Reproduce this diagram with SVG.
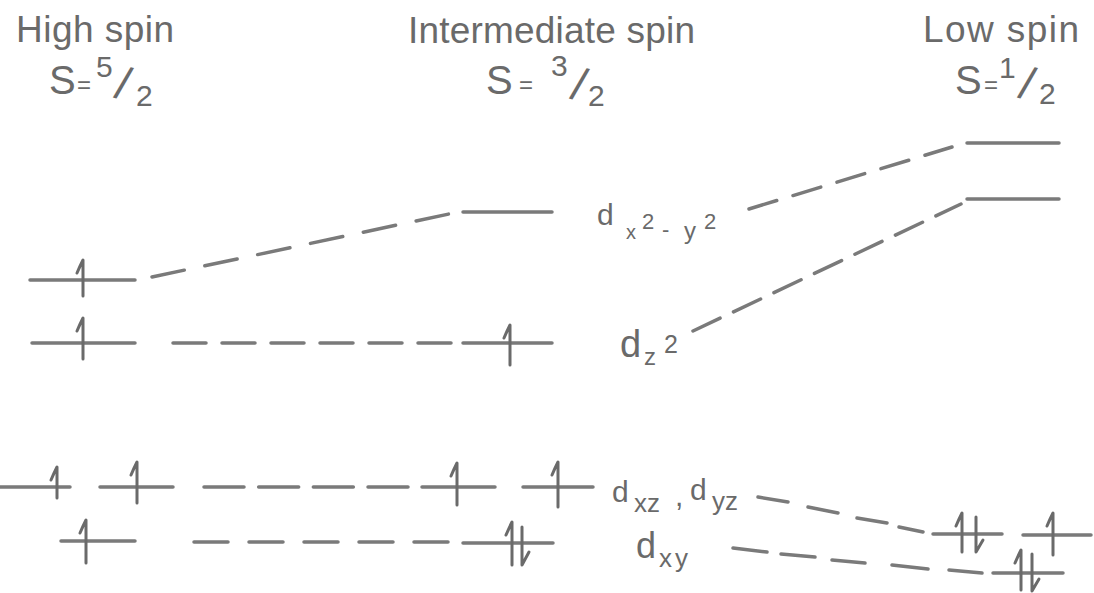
<svg xmlns="http://www.w3.org/2000/svg" width="1094" height="593" viewBox="0 0 1094 593">
<style>
.lv{stroke:#7a7a7a;stroke-width:3.5;stroke-linecap:round;fill:none}
.el{stroke:#6a6a6a;stroke-width:3;stroke-linecap:round;stroke-linejoin:round;fill:none}
.cn{stroke:#7a7a7a;stroke-width:3.5;stroke-linecap:round;fill:none}
.t{font-family:"Liberation Sans","DejaVu Sans",sans-serif;fill:#6a6a6a}
</style>
<rect width="1094" height="593" fill="#ffffff"/>
<g id="titles" class="t">
<text x="16" y="42" font-size="37" textLength="158" lengthAdjust="spacing">High spin</text>
<text font-size="40"><tspan x="49" y="94">S</tspan><tspan x="77" y="93" font-size="24">=</tspan><tspan x="96" y="77" font-size="30">5</tspan><tspan x="113" y="97" font-size="46" rotate="15">/</tspan><tspan x="136" y="106" font-size="30">2</tspan></text>
<text x="408" y="43" font-size="37" textLength="287" lengthAdjust="spacing">Intermediate spin</text>
<text font-size="40"><tspan x="486" y="94">S</tspan><tspan x="519" y="93" font-size="24">=</tspan><tspan x="551" y="76" font-size="30">3</tspan><tspan x="569" y="98" font-size="46" rotate="15">/</tspan><tspan x="588" y="106" font-size="30">2</tspan></text>
<text x="923" y="42" font-size="37" textLength="156" lengthAdjust="spacing">Low spin</text>
<text font-size="40"><tspan x="955" y="94">S</tspan><tspan x="984" y="93" font-size="24">=</tspan><tspan x="999" y="78" font-size="30">1</tspan><tspan x="1017" y="97" font-size="46" rotate="15">/</tspan><tspan x="1039" y="104" font-size="30">2</tspan></text>
</g>
<g id="connectors">
<path class="cn" d="M152,277 L449,214" stroke-dasharray="33 21"/>
<path class="cn" d="M749,209 L952,147" stroke-dasharray="29 17"/>
<path class="cn" d="M173,343 H451" stroke-dasharray="33 16"/>
<path class="cn" d="M693,331 L961,204" stroke-dasharray="30 14.8"/>
<path class="cn" d="M204,487 H408" stroke-dasharray="40 14.67"/>
<path class="cn" d="M194,542 H448" stroke-dasharray="34 21"/>
<path class="cn" d="M758,497 L788,502 M808,507 L838,513 M857,518 L887,523 M899,527 L923,532"/>
<path class="cn" d="M733,548 L767,552 M781,554 L815,557 M832,560 L865,563 M892,565 L928,569 M949,570 L982,573"/>
</g>
<g id="hs-dx2y2"><path class="lv" d="M30,280 H135"/><path class="el" d="M83,296 V260 Q80,266 77,273"/></g>
<g id="hs-dz2"><path class="lv" d="M32,343 H135"/><path class="el" d="M83,359 V318 Q80,324 77,331"/></g>
<g id="hs-dxz-dyz"><path class="lv" d="M0,487 H70"/><path class="el" d="M57,498 V467 Q54,473 51,480"/><path class="lv" d="M100,487 H173"/><path class="el" d="M137,503 V462 Q134,468 131,475"/></g>
<g id="hs-dxy"><path class="lv" d="M61,541 H135"/><path class="el" d="M86,563 V520 Q83,526 80,533"/></g>
<g id="is-dx2y2"><path class="lv" d="M463,212 H552"/></g>
<g id="is-dz2"><path class="lv" d="M463,343 H552"/><path class="el" d="M510,365 V325 Q507,331 504,338"/></g>
<g id="is-dxz-dyz"><path class="lv" d="M422,487 H495"/><path class="el" d="M457,505 V463 Q454,469 451,476"/><path class="lv" d="M523,487 H593"/><path class="el" d="M558,507 V462 Q555,468 552,475"/></g>
<g id="is-dxy"><path class="lv" d="M463,543 H553"/><path class="el" d="M512,565 V522 Q509,528 506,535"/><path class="el" d="M522,527 V565 L529,552"/></g>
<g id="ls-dx2y2"><path class="lv" d="M967,143 H1059"/></g>
<g id="ls-dz2"><path class="lv" d="M967,199 H1059"/></g>
<g id="ls-dxz-dyz"><path class="lv" d="M933,534 H1002"/><path class="el" d="M962,552 V513 Q959,519 956,526"/><path class="el" d="M976,517 V552 L983,540"/><path class="lv" d="M1023,535 H1091"/><path class="el" d="M1053,555 V513 Q1050,519 1047,526"/></g>
<g id="ls-dxy"><path class="lv" d="M993,573 H1063"/><path class="el" d="M1021,590 V550 Q1018,556 1015,563"/><path class="el" d="M1032,554 V591 L1039,579"/></g>
<g id="label-dx2y2" class="t"><text><tspan x="597" y="225" font-size="30">d</tspan><tspan x="626" y="239" font-size="20">x</tspan><tspan x="642" y="229" font-size="22">2</tspan><tspan x="662" y="237" font-size="22">-</tspan><tspan x="684" y="239" font-size="24">y</tspan><tspan x="704" y="229" font-size="22">2</tspan></text></g>
<g id="label-dz2" class="t"><text><tspan x="620" y="357" font-size="38">d</tspan><tspan x="644" y="365" font-size="24">z</tspan><tspan x="664" y="353" font-size="25">2</tspan></text></g>
<g id="label-dxz-dyz" class="t"><text><tspan x="612" y="502" font-size="30">d</tspan><tspan x="634" y="512" font-size="26">xz</tspan><tspan x="675" y="506" font-size="30">,</tspan><tspan x="690" y="500" font-size="30">d</tspan><tspan x="712" y="510" font-size="26">yz</tspan></text></g>
<g id="label-dxy" class="t"><text><tspan x="636" y="558" font-size="36">d</tspan><tspan x="659" y="567" font-size="26">x</tspan><tspan x="675" y="567" font-size="26">y</tspan></text></g>
</svg>
